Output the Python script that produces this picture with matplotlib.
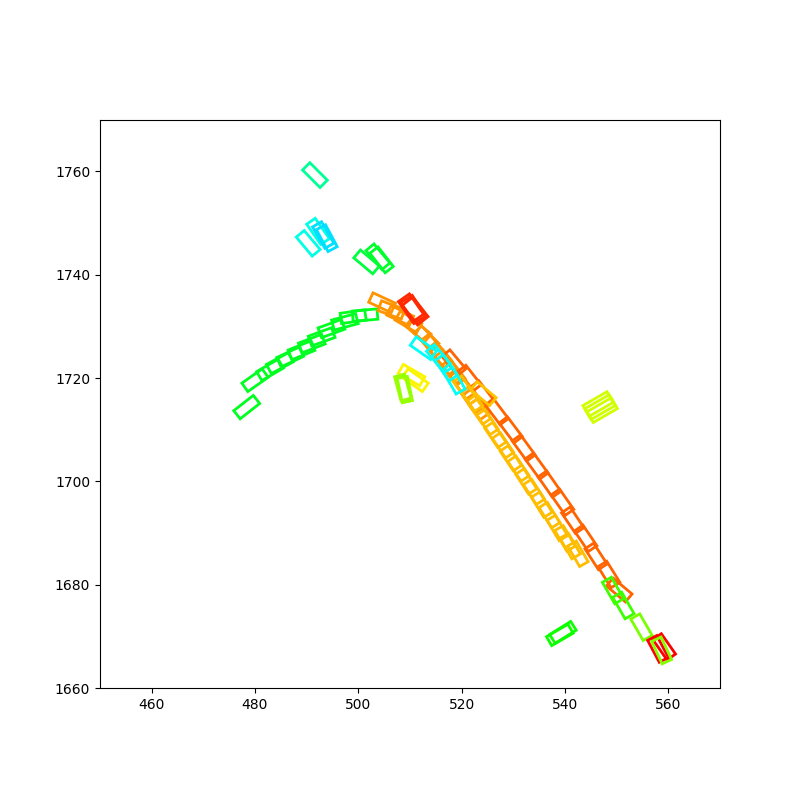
import matplotlib
matplotlib.use("Agg")
import matplotlib.pyplot as plt
from matplotlib.patches import Rectangle

# box centres (x, y), heading in degrees, size and hue for the hsv colormap
box_x = [
    # green arc
    478.4, 480.0, 482.9, 484.8, 486.8, 489.0, 491.0, 492.9, 494.8, 497.4, 499.0, 501.3,
    # orange upper curve
    504.6, 506.4, 508.1, 509.7, 511.6, 513.2, 514.5, 515.8, 517.1, 518.4, 519.7, 521.0, 522.0, 523.0,
    # red-orange line
    518.5, 521.5, 524.0, 526.8, 529.5, 532.0, 534.5, 537.0, 539.5, 541.5, 544.0, 546.0, 548.5, 550.5,
    # amber line
    520.5, 522.0, 523.5, 525.0, 526.5, 528.0, 529.5, 531.0, 532.5, 534.0, 535.5, 537.0, 538.5, 540.0, 541.0, 542.5,
    # single amber
    524.2,
    # cyan boxes on the chain
    512.6, 515.5, 517.0, 518.6,
    # red near the top of the chain
    510.2, 510.6, 511.0,
    # top cluster
    491.6, 490.3, 492.2, 493.2, 493.9, 501.6, 503.8, 504.5,
    # yellow and lime at 510
    510.3, 511.0, 508.6, 509.0,
    # lime-yellow at 546
    546.4, 546.8, 547.2,
    # lower right group
    539.0, 539.6, 549.3, 551.3, 554.8, 558.0, 559.2, 558.7,
]
box_y = [
    1714.4, 1719.6, 1721.6, 1722.9, 1724.1, 1725.4, 1726.7, 1728.0, 1729.6, 1730.9, 1731.9, 1732.2,
    1734.6, 1733.2, 1732.1, 1730.9, 1729.3, 1727.7, 1726.1, 1724.5, 1722.9, 1721.2, 1719.3, 1717.5, 1715.8, 1714.5,
    1723.0, 1720.0, 1717.0, 1713.5, 1710.0, 1706.5, 1703.0, 1699.5, 1696.0, 1692.5, 1689.0, 1685.5, 1682.0, 1679.0,
    1718.0, 1716.0, 1713.5, 1711.5, 1709.0, 1707.0, 1704.5, 1702.5, 1700.0, 1698.0, 1695.5, 1693.5, 1691.0, 1689.0, 1687.5, 1686.0,
    1717.0,
    1725.8, 1724.0, 1722.0, 1719.5,
    1733.6, 1733.3, 1733.0,
    1759.3, 1746.1, 1748.4, 1747.7, 1747.1, 1742.5, 1743.5, 1742.9,
    1720.6, 1719.6, 1718.2, 1717.8,
    1715.0, 1714.4, 1713.8,
    1670.3, 1670.8, 1678.9, 1676.0, 1671.8, 1667.6, 1668.0, 1667.3,
]
box_angle = [
    38, 35, 30, 28, 25, 22, 21, 20, 20, 15, 8, 5,
    -25, -20, -25, -30, -40, -45, -50, -50, -52, -52, -53, -55, -55, -55,
    -50, -52, -52, -53, -53, -54, -54, -55, -55, -56, -56, -57, -58, -40,
    -55, -55, -55, -56, -56, -56, -56, -56, -57, -57, -58, -58, -59, -60, -60, -60,
    -40,
    -35, -50, -55, -60,
    -55, -58, -52,
    -45, -50, -55, -60, -62, -40, -50, -52,
    -30, -35, -75, -78,
    30, 30, 30,
    30, 32, -60, -60, -60, -62, -55, -65,
]
box_len = (
    [4.8] * 12 + [4.8] * 14 + [4.8] * 14 + [4.6] * 16 + [4.8]
    + [4.8] * 4 + [4.8] * 3 + [4.8] * 8 + [4.8] * 4
    + [5.4] * 3 + [4.8] * 8
)
box_wid = (
    [2.0] * 12 + [2.0] * 14 + [2.0] * 14 + [1.9] * 16 + [2.0]
    + [2.0] * 4 + [2.6] * 3 + [2.0] * 8 + [2.0] * 4
    + [2.4] * 3 + [2.0] * 8
)
box_hue = (
    [0.36] * 12
    + [0.10] * 14
    + [0.067] * 14
    + [0.125] * 16
    + [0.13]
    + [0.50] * 4
    + [0.03] * 3
    + [0.44, 0.49, 0.49, 0.53, 0.53, 0.38, 0.37, 0.37]
    + [0.165, 0.165, 0.24, 0.24]
    + [0.20] * 3
    + [0.33, 0.33, 0.30, 0.30, 0.26, 0.0, 0.0, 0.25]
)

fig, ax = plt.subplots(figsize=(8, 8), dpi=100)
cmap = plt.get_cmap("hsv")

for x, y, a, L, W, h in zip(box_x, box_y, box_angle, box_len, box_wid, box_hue):
    rect = Rectangle((x - L / 2, y - W / 2), L, W, angle=a, rotation_point="center",
                     fill=False, edgecolor=cmap(h), linewidth=2)
    ax.add_patch(rect)

ax.set_xlim(450, 570)
ax.set_ylim(1660, 1770)
ax.set_aspect("equal")

fig.savefig("out.png")
